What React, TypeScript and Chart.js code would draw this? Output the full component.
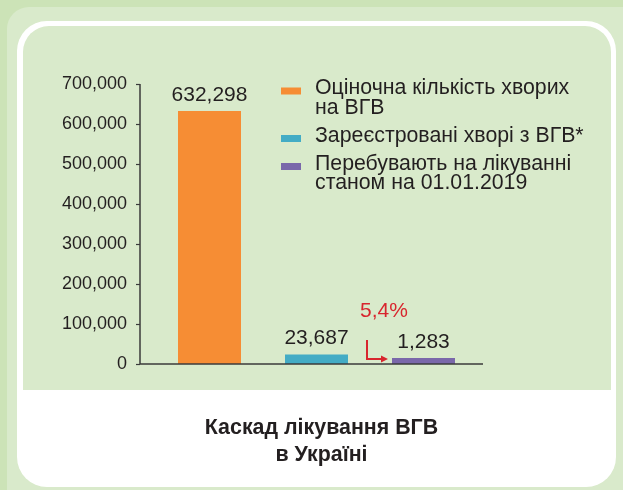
import React, { useEffect, useRef } from "react";
import { Chart, registerables } from "chart.js";

Chart.register(...registerables);

// ---- data ----
const categories = [
  "Оціночна кількість хворих на ВГВ",
  "Зареєстровані хворі з ВГВ*",
  "Перебувають на лікуванні станом на 01.01.2019",
];
const legendLines = [
  ["Оціночна кількість хворих", "на ВГВ"],
  ["Зареєстровані хворі з ВГВ*"],
  ["Перебувають на лікуванні", "станом на 01.01.2019"],
];
const patients = [632298, 23687, 1283];
const barColors = ["#F68D34", "#43ACC5", "#7A68AA"];
const yMin = 0;
const yMax = 700000;
const yStep = 100000;
const titleLines = ["Каскад лікування ВГВ", "в Україні"];

const FONT = '"Liberation Sans", Arial, Helvetica, sans-serif';
const TEXT = "#231F20";
const RED = "#D8262E";

const fmt = (v: number) => v.toLocaleString("en-US");

const overlay = {
  id: "overlay",
  afterDraw(chart: any) {
    const ctx = chart.ctx as CanvasRenderingContext2D;
    const area = chart.chartArea;
    const y = chart.scales.y;
    const zeroY = y.getPixelForValue(yMin);
    const topY = y.getPixelForValue(yMax);
    const axisX = area.left - 16;

    ctx.save();
    // axes
    ctx.strokeStyle = "#3B3B3B";
    ctx.lineWidth = 1.5;
    ctx.beginPath();
    ctx.moveTo(axisX, topY);
    ctx.lineTo(axisX, zeroY);
    ctx.lineTo(area.right + 6, zeroY);
    ctx.stroke();
    ctx.lineWidth = 1.2;
    y.ticks.forEach((t: any) => {
      const py = Math.round(y.getPixelForValue(t.value)) + 0.5;
      ctx.beginPath();
      ctx.moveTo(axisX - 4, py);
      ctx.lineTo(axisX, py);
      ctx.stroke();
    });

    // value labels
    const meta = chart.getDatasetMeta(0);
    ctx.fillStyle = TEXT;
    ctx.font = `21px ${FONT}`;
    ctx.textAlign = "center";
    ctx.textBaseline = "middle";
    meta.data.forEach((bar: any, i: number) => {
      ctx.fillText(fmt(patients[i]), bar.x, bar.y - 16);
    });

    // share annotation (treated / registered)
    const last = meta.data[2];
    const left = last.x - last.width / 2;
    const pct = ((patients[2] / patients[1]) * 100).toFixed(1).replace(".", ",") + "%";
    ctx.fillStyle = RED;
    ctx.font = `21px ${FONT}`;
    ctx.fillText(pct, left - 8, zeroY - 53);
    ctx.strokeStyle = RED;
    ctx.lineWidth = 2;
    ctx.beginPath();
    ctx.moveTo(left - 25, zeroY - 24);
    ctx.lineTo(left - 25, zeroY - 5);
    ctx.lineTo(left - 10, zeroY - 5);
    ctx.stroke();
    ctx.beginPath();
    ctx.moveTo(left - 4, zeroY - 5);
    ctx.lineTo(left - 11, zeroY - 8.5);
    ctx.lineTo(left - 11, zeroY - 1.5);
    ctx.closePath();
    ctx.fillStyle = RED;
    ctx.fill();

    // legend
    const lx = area.left + 125;
    let ly = area.top + 4.5;
    ctx.font = `21.3px ${FONT}`;
    ctx.textAlign = "left";
    legendLines.forEach((lines, i) => {
      ctx.fillStyle = barColors[i];
      ctx.fillRect(lx, ly - 1, 20, 7);
      ctx.fillStyle = TEXT;
      lines.forEach((ln, j) => {
        ctx.fillText(ln, lx + 34, ly + j * 19.5);
      });
      ly += lines.length * 19.5 + 8.5;
    });
    ctx.restore();
  },
};

export default function App() {
  const ref = useRef<HTMLCanvasElement | null>(null);

  useEffect(() => {
    if (!ref.current) return;
    const chart = new Chart(ref.current, {
      type: "bar",
      data: {
        labels: categories,
        datasets: [
          {
            data: patients,
            backgroundColor: barColors,
            borderWidth: 0,
            categoryPercentage: 1,
            barPercentage: 63 / 107,
            minBarLength: 6,
          },
        ],
      },
      options: {
        animation: false,
        responsive: false,
        maintainAspectRatio: false,
        layout: { padding: { left: 0, top: 84, right: 146, bottom: 126 } },
        plugins: {
          legend: { display: false },
          tooltip: { enabled: false },
          title: { display: false },
        },
        scales: {
          x: { display: false },
          y: {
            min: yMin,
            max: yMax,
            ticks: {
              stepSize: yStep,
              padding: 29,
              color: TEXT,
              font: { family: FONT, size: 18 },
            },
            grid: { display: false, drawTicks: false },
            border: { display: false },
            afterFit(scale: any) {
              scale.width = 156;
            },
          },
        },
      },
      plugins: [overlay],
    } as any);
    return () => chart.destroy();
  }, []);

  return (
    <div
      style={{
        position: "absolute",
        left: 0,
        top: 0,
        width: 623,
        height: 490,
        overflow: "hidden",
        background: "#CCE3B7",
      }}
    >
      <div
        style={{
          position: "absolute",
          left: 7,
          top: 7,
          width: 650,
          height: 520,
          borderRadius: 22,
          background: "#D9EACB",
        }}
      />
      <div
        style={{
          position: "absolute",
          left: 17,
          top: 21,
          width: 599,
          height: 466,
          borderRadius: 30,
          background: "#FFFFFF",
        }}
      />
      <div
        style={{
          position: "absolute",
          left: 23,
          top: 26,
          width: 588,
          height: 364,
          borderRadius: "26px 26px 0 0",
          background: "#D9EACB",
        }}
      />
      <canvas
        ref={ref}
        width={623}
        height={490}
        style={{ position: "absolute", left: 0, top: 0, width: 623, height: 490 }}
      />
      <div
        style={{
          position: "absolute",
          left: 17,
          width: 609,
          top: 414,
          textAlign: "center",
          fontFamily: FONT,
          fontWeight: "bold",
          fontSize: 21.4,
          lineHeight: "27px",
          color: TEXT,
        }}
      >
        {titleLines.map((t, i) => (
          <div key={i}>{t}</div>
        ))}
      </div>
    </div>
  );
}
